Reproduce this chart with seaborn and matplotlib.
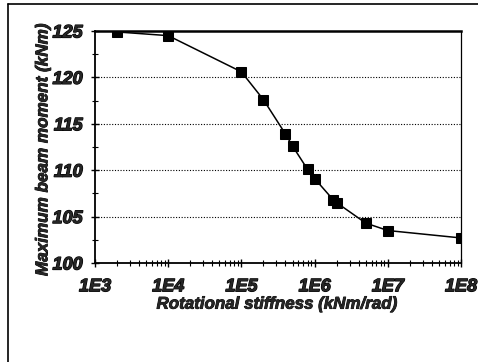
import matplotlib
matplotlib.use("Agg")
import matplotlib.pyplot as plt
import matplotlib.ticker as mticker
import matplotlib.patheffects as pe
from matplotlib.lines import Line2D
import seaborn as sns
import pandas as pd

stiffness = [2e3, 1e4, 1e5, 2e5, 4e5, 5e5, 8e5, 1e6, 1.8e6, 2e6, 5e6, 1e7, 1e8]
moment = [124.9, 124.5, 120.6, 117.6, 113.9, 112.6, 110.1, 109.1, 106.8, 106.5, 104.3, 103.5, 102.7]
xtick_vals = [1e3, 1e4, 1e5, 1e6, 1e7, 1e8]
xtick_labels = ["1E3", "1E4", "1E5", "1E6", "1E7", "1E8"]
ytick_vals = [100, 105, 110, 115, 120, 125]

df = pd.DataFrame({"stiffness": stiffness, "moment": moment})

sns.set_theme(style="white")
plt.rcParams['font.family'] = ['Liberation Sans', 'DejaVu Sans']

fig = plt.figure(figsize=(4.78, 3.62), dpi=100)
ax = fig.add_axes([95/478, 1-263/362, (461-95)/478, (263-31)/362])

sns.lineplot(data=df, x="stiffness", y="moment", ax=ax, color="black",
             marker="s", markersize=6.5, linewidth=1.1, markeredgecolor="black",
             markerfacecolor="black")

ax.set_xscale("log")
ax.set_xlim(1e3, 1e8)
ax.set_ylim(100, 125)
ax.set_xticks(xtick_vals)
ax.set_xticklabels(xtick_labels)
ax.set_yticks(ytick_vals)
ax.xaxis.set_minor_locator(mticker.LogLocator(base=10, subs=range(2, 10), numticks=20))
ax.xaxis.set_minor_formatter(mticker.NullFormatter())
ax.yaxis.set_minor_locator(mticker.MultipleLocator(2.5))

heavy = [pe.withStroke(linewidth=0.9, foreground="black")]
for lab in ax.get_xticklabels() + ax.get_yticklabels():
    lab.set_fontweight("heavy")
    lab.set_fontstyle("italic")
    lab.set_fontsize(13)
    lab.set_path_effects(heavy)

ax.tick_params(axis="both", which="major", direction="inout", length=6, width=1,
               color="black", left=True, bottom=True)
ax.tick_params(axis="both", which="minor", direction="inout", length=4, width=0.8,
               color="black", left=True, bottom=True)
ax.tick_params(axis="x", which="major", pad=8)
ax.tick_params(axis="y", which="major", pad=6)

ax.grid(False)
for y in [105, 110, 115, 120]:
    ax.axhline(y, color="black", linestyle=(0, (1, 1.5)), linewidth=0.8, zorder=0)

for s in ["left", "bottom"]:
    ax.spines[s].set_color("black")
    ax.spines[s].set_linewidth(1.3)
ax.spines["top"].set_color("black")
ax.spines["top"].set_linewidth(1.8)
ax.spines["right"].set_color("black")
ax.spines["right"].set_linewidth(0.9)
ax.spines["right"].set_linestyle((0, (1, 1)))

lab_heavy = [pe.withStroke(linewidth=0.6, foreground="black")]
ax.set_xlabel("Rotational stiffness (kNm/rad)", fontsize=12.2, fontweight="heavy",
              fontstyle="italic", path_effects=lab_heavy)
ax.set_ylabel("Maximum beam moment (kNm)", fontsize=12.3, fontweight="heavy",
              fontstyle="italic", path_effects=lab_heavy)
ax.xaxis.set_label_coords(0.496, -0.145)
ax.yaxis.set_label_coords(-0.122, 0.49)

# outer frame
fig.add_artist(Line2D([8/478, 1.0], [1-4/362, 1-4/362], transform=fig.transFigure,
                      color="black", linewidth=1.2))
fig.add_artist(Line2D([8/478, 8/478], [0, 1-4/362], transform=fig.transFigure,
                      color="black", linewidth=1.2))

fig.savefig("out.png", dpi=100)
